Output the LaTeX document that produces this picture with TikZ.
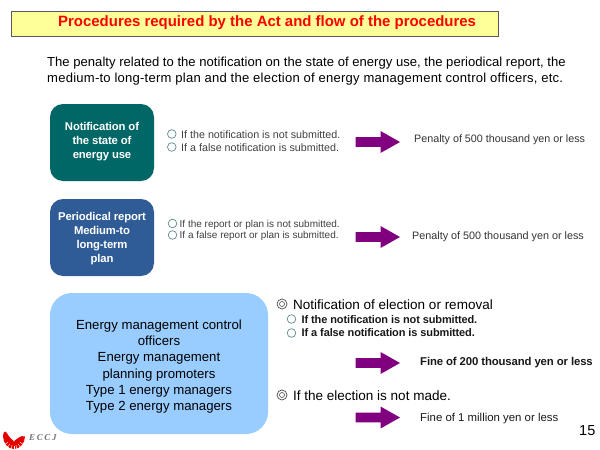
\documentclass[tikz,border=0pt]{standalone}
\usepackage{fontspec}
\setmainfont{Liberation Sans}
\newfontfamily\logofont[LetterSpace=18]{Liberation Serif}
\definecolor{ttl}{HTML}{FFFF99}
\definecolor{teal1}{HTML}{006666}
\definecolor{blue1}{HTML}{2F5C96}
\definecolor{sky}{HTML}{99CCFF}
\definecolor{purp}{HTML}{800080}
\definecolor{ring}{HTML}{5F8A8F}
\newcommand{\fs}[1]{\fontsize{#1}{#1}\selectfont}
\tikzset{
  x=1pt,y=-1pt,
  wlabel/.style={text=white,font=\fs{11.3}\bfseries\addfontfeature{LetterSpace=-1.3},align=center},
  lbl/.style={anchor=west,inner sep=0pt,text=#1},
  lbl/.default=black,
  bul/.style={circle,draw=ring,line width=0.7pt,fill=white,minimum size=8.6pt,inner sep=0pt},
  bigbul/.style={circle,draw=black!70,line width=0.7pt,fill=white,minimum size=10pt,inner sep=0pt},
  smallbul/.style={circle,draw=black!70,line width=0.6pt,minimum size=5pt,inner sep=0pt},
  arrowbox/.style={fill=purp,draw=none},
}
\newcommand{\blockarrow}[2]{\fill[arrowbox] (#1,#2-4.8) -- (#1+25,#2-4.8) -- (#1+25,#2-11) -- (#1+44.5,#2) -- (#1+25,#2+11) -- (#1+25,#2+4.8) -- (#1,#2+4.8) -- cycle;}
\begin{document}
\begin{tikzpicture}
\useasboundingbox (0,0) rectangle (600,450);
\fill[white] (0,0) rectangle (600,450);
% title
\node[draw=black!65,fill=ttl,line width=0.8pt,minimum width=487pt,minimum height=25pt,inner sep=0pt,anchor=north west] (title) at (10.5,10.5) {};
\node[lbl=red,font=\fs{14.95}\bfseries] (titletext) at (58,22.5) {Procedures required by the Act and flow of the procedures};
% intro
\node[lbl,font=\fs{13.05}] (intro1) at (47,63.5) {\addfontfeature{LetterSpace=0.2}The penalty related to the notification on the state of energy use, the periodical report, the};
\node[lbl,font=\fs{13.05}] (intro2) at (47,79.5) {\addfontfeature{LetterSpace=1.8}medium-to long-term plan and the election of energy management control officers, etc.};
% boxes
\fill[teal1,rounded corners=13pt] (50,104) rectangle (154,181);
\node[wlabel] (b1) at (102,141.5) {Notification of\\[2.7pt]the state of\\[2.7pt]energy use};
\fill[blue1,rounded corners=13pt] (50,199) rectangle (154,276);
\node[wlabel] (b2) at (102,239) {Periodical report\\[2.7pt]Medium-to\\[2.7pt]long-term\\[2.7pt]plan};
\fill[sky,rounded corners=22pt] (50,293) rectangle (268,434);
\node[align=center,font=\fs{13.2},inner sep=0pt] (b3) at (159,366.5) {Energy management control\\[3pt]officers\\[3pt]Energy management\\[3pt]planning promoters\\[3pt]Type 1 energy managers\\[3pt]Type 2 energy managers};
% row 1
\node[bul] (c1) at (171.8,134) {};
\node[bul] (c2) at (171.8,147) {};
\node[lbl=black!75,font=\fs{10.72}] (t1) at (181,134.5) {If the notification is not submitted.};
\node[lbl=black!75,font=\fs{10.72}] (t2) at (181,147.5) {If a false notification is submitted.};
\blockarrow{355.5}{142}
\node[lbl=black!80,font=\fs{10.75}] (p1) at (414,139.5) {Penalty of 500 thousand yen or less};
% row 2
\node[bul] (c3) at (172.5,223.5) {};
\node[bul] (c4) at (172.5,235) {};
\node[lbl=black!75,font=\fs{10}] (t3) at (179.5,224.5) {If the report or plan is not submitted.};
\node[lbl=black!75,font=\fs{10}] (t4) at (179.5,236) {If a false report or plan is submitted.};
\blockarrow{355.5}{237}
\node[lbl=black!80,font=\fs{10.8}] (p2) at (412,236.5) {Penalty of 500 thousand yen or less};
% row 3
\node[bigbul] (d1) at (282,304) {};
\node[smallbul] (d1b) at (282,304) {};
\node[lbl,font=\fs{13.5}] (h1) at (293,304.5) {Notification of election or removal};
\node[bul] (c5) at (291.5,319) {};
\node[bul] (c6) at (291.5,333) {};
\node[lbl=black!90,font=\fs{11}\bfseries] (t5) at (301.5,319.5) {\addfontfeature{LetterSpace=-1.2}If the notification is not submitted.};
\node[lbl=black!90,font=\fs{11}\bfseries] (t6) at (301.5,333) {\addfontfeature{LetterSpace=-1.2}If a false notification is submitted.};
\blockarrow{355.5}{363}
\node[lbl=black!90,font=\fs{11.35}\bfseries] (f1) at (420,362.5) {\addfontfeature{LetterSpace=-1.2}Fine of 200 thousand yen or less};
\node[bigbul] (d2) at (282,395) {};
\node[smallbul] (d2b) at (282,395) {};
\node[lbl,font=\fs{13.5}] (h2) at (293,395.5) {If the election is not made.};
\blockarrow{355.5}{417.5}
\node[lbl=black!90,font=\fs{11.4}] (f2) at (420,418.5) {Fine of 1 million yen or less};
% page number
\node[lbl,font=\fs{14.5}] (pg) at (579,431) {15};
% logo
\fill[red!90!black] (3,436) .. controls (3,433) and (4,431.5) .. (5.5,431.5) .. controls (8,434) and (9,438) .. (14,441) .. controls (19,438) and (20,435) .. (25,436.5) .. controls (25,443) and (20,449) .. (14,449) .. controls (8,449) and (3,443) .. (3,436) -- cycle;
\fill[white] (14,442) -- (12,435) -- (16,435) -- cycle;
\foreach \a in {35,55,75,90,105,125,145}{
  \draw[white,line width=0.4pt] (14,438) ++(\a:7.5) -- ++(\a:4.5);}
\node[lbl=black!55,font=\fs{9}\logofont\bfseries\itshape] (eccj) at (29,438) {ECCJ};
\end{tikzpicture}
\end{document}
